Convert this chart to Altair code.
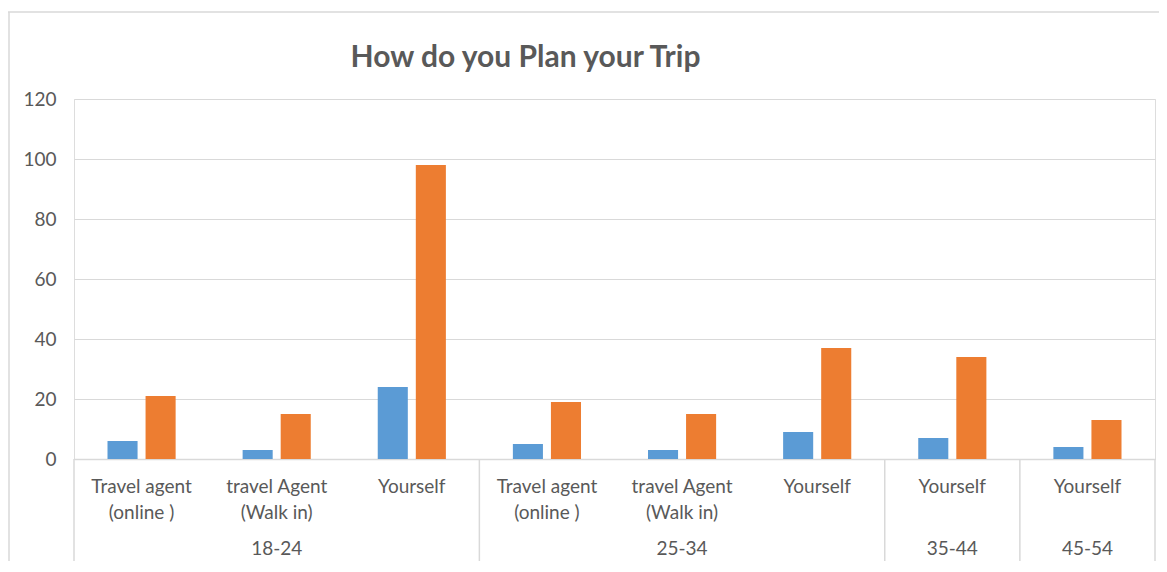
import altair as alt
import pandas as pd

# ---- data ----
groups = ["18-24", "18-24", "18-24", "25-34", "25-34", "25-34", "35-44", "45-54"]
methods = [
    "Travel agent\n(online )",
    "travel Agent\n(Walk in)",
    "Yourself",
    "Travel agent\n(online )",
    "travel Agent\n(Walk in)",
    "Yourself",
    "Yourself",
    "Yourself",
]
series_names = ["Series1", "Series2"]
series1 = [6, 3, 24, 5, 3, 9, 7, 4]
series2 = [21, 15, 98, 19, 15, 37, 34, 13]
y_ticks = [0, 20, 40, 60, 80, 100, 120]
title_text = "How do you Plan your Trip"

# ---- derived tables ----
slots = [f"{g}|{m}" for g, m in zip(groups, methods)]

bars_df = pd.DataFrame({
    "slot": slots * 2,
    "series": [series_names[0]] * len(slots) + [series_names[1]] * len(slots),
    "value": series1 + series2,
})
cat_df = pd.DataFrame({"slot": slots, "label": methods})

uniq_groups = list(dict.fromkeys(groups))
grp_rows, start_rows = [], []
for g in uniq_groups:
    idx = [i for i, gg in enumerate(groups) if gg == g]
    grp_rows.append({"slot": slots[idx[len(idx) // 2]], "label": g})
    start_rows.append({"slot": slots[idx[0]]})
grp_df = pd.DataFrame(grp_rows)
start_df = pd.DataFrame(start_rows)
end_df = pd.DataFrame({"slot": [slots[-1]]})
title_df = pd.DataFrame({"t": [title_text]})

TEXT = "#595959"
GRID = "#D9D9D9"
FONT = "Lato"
W, H = 1081, 360

x_scale = alt.Scale(domain=slots, paddingInner=0, paddingOuter=0)

bars = alt.Chart(bars_df).mark_bar().encode(
    x=alt.X("slot:N", scale=x_scale, sort=slots,
            axis=alt.Axis(labels=False, ticks=False, title=None, grid=False,
                          domainColor=GRID, domainWidth=1.5)),
    xOffset=alt.XOffset("series:N", sort=series_names,
                        scale=alt.Scale(domain=series_names, paddingInner=0.21, paddingOuter=0.88)),
    y=alt.Y("value:Q", scale=alt.Scale(domain=[0, 120], nice=False),
            axis=alt.Axis(values=y_ticks, title=None, domain=False, ticks=False,
                          labelPadding=18, gridColor=GRID, gridWidth=1.2,
                          labelFontSize=19, labelColor=TEXT, labelFont=FONT)),
    color=alt.Color("series:N", scale=alt.Scale(domain=series_names, range=["#5B9BD5", "#ED7D31"]),
                    legend=None),
)

cat_text = alt.Chart(cat_df).mark_text(
    font=FONT, fontSize=19, color=TEXT, baseline="top", align="center",
    lineBreak="\n", lineHeight=26,
).encode(
    x=alt.X("slot:N", scale=x_scale, sort=slots),
    y=alt.value(379),
    text="label:N",
)

grp_text = alt.Chart(grp_df).mark_text(
    font=FONT, fontSize=19, color=TEXT, baseline="middle", align="center",
).encode(
    x=alt.X("slot:N", scale=x_scale, sort=slots),
    y=alt.value(450),
    text="label:N",
)

sep_start = alt.Chart(start_df).mark_rule(color=GRID, strokeWidth=1.5).encode(
    x=alt.X("slot:N", scale=x_scale, sort=slots, bandPosition=0),
    y=alt.value(H), y2=alt.value(H + 120),
)
sep_end = alt.Chart(end_df).mark_rule(color=GRID, strokeWidth=1.5).encode(
    x=alt.X("slot:N", scale=x_scale, sort=slots, bandPosition=1),
    y=alt.value(H), y2=alt.value(H + 120),
)

# chart-area frame (decoration)
frame_top = alt.Chart(end_df).mark_rule(color=GRID, strokeWidth=1.5).encode(
    x=alt.value(-66), x2=alt.value(W + 4), y=alt.value(-87),
)
frame_left = alt.Chart(end_df).mark_rule(color=GRID, strokeWidth=1.5).encode(
    x=alt.value(-65), y=alt.value(-87), y2=alt.value(H + 120),
)

title = alt.Chart(title_df).mark_text(
    font=FONT, fontSize=30, fontWeight="bold", color=TEXT,
    align="center", baseline="alphabetic",
).encode(
    x=alt.value(W / 2 - 89), y=alt.value(-32), text="t:N",
)

chart = alt.layer(
    frame_top, frame_left, bars, sep_start, sep_end, cat_text, grp_text, title
).properties(
    width=W, height=H,
    autosize=alt.AutoSizeParams(type="none"),
    padding={"left": 66, "top": 91, "right": 4, "bottom": 102},
).configure_view(stroke=None).configure(background="white")

chart.save("out.html", embed_options={"renderer": "svg", "actions": False})
